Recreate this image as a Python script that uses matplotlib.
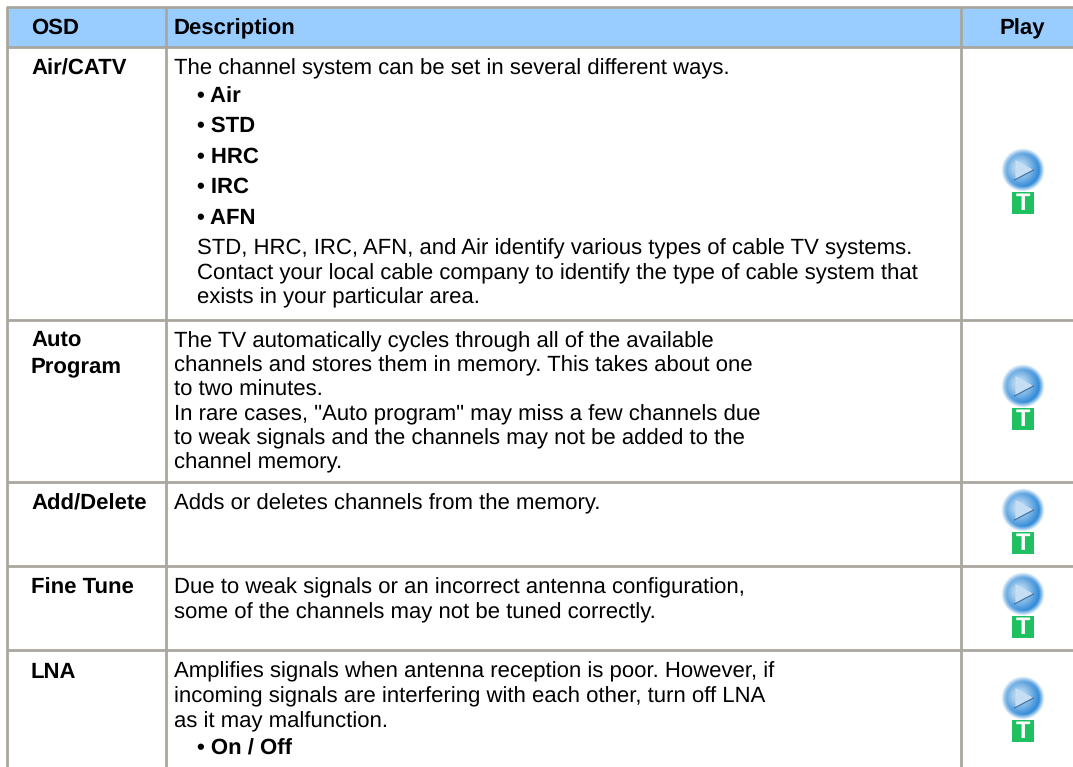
import numpy as np
from matplotlib import pyplot as plt
from matplotlib.patches import Rectangle, Polygon

# Table content
header = ['OSD', 'Description', 'Play']
osd_names = [['Air/CATV'], ['Auto', 'Program'], ['Add/Delete'], ['Fine Tune'], ['LNA']]
osd_y = [[75], [346, 372], [510], [594], [678]]

# description lines: text, baseline, indented, bold
desc_lines = [
    ('The channel system can be set in several different ways.', 74, False, False),
    ('• Air', 102, True, True),
    ('• STD', 132, True, True),
    ('• HRC', 163, True, True),
    ('• IRC', 193, True, True),
    ('• AFN', 224, True, True),
    ('STD, HRC, IRC, AFN, and Air identify various types of cable TV systems.', 254, True, False),
    ('Contact your local cable company to identify the type of cable system that', 279, True, False),
    ('exists in your particular area.', 303, True, False),
    ('The TV automatically cycles through all of the available', 347, False, False),
    ('channels and stores them in memory. This takes about one', 371, False, False),
    ('to two minutes.', 396, False, False),
    ('In rare cases, "Auto program" may miss a few channels due', 420, False, False),
    ('to weak signals and the channels may not be added to the', 444, False, False),
    ('channel memory.', 468, False, False),
    ('Adds or deletes channels from the memory.', 509, False, False),
    ('Due to weak signals or an incorrect antenna configuration,', 593, False, False),
    ('some of the channels may not be tuned correctly.', 618, False, False),
    ('Amplifies signals when antenna reception is poor. However, if', 677, False, False),
    ('incoming signals are interfering with each other, turn off LNA', 702, False, False),
    ('as it may malfunction.', 727, False, False),
    ('• On / Off', 755, True, True),
]

top_line = 7
row_lines = [47, 320, 482, 566, 650]
col_lines = [7, 165.5, 961]
icon_y = [170, 386, 510, 594, 698]

plt.rcParams['text.hinting'] = 'no_hinting'
plt.rcParams['font.family'] = 'Liberation Sans'
FS = 15.9
LINE = '#a9a79e'


def draw_icon(ax, cx, cy):
    # radial gradient play button
    n = 60
    yy, xx = np.mgrid[-1:1:n * 1j, -1:1:n * 1j]
    r = np.sqrt(xx ** 2 + yy ** 2)
    r2 = np.sqrt((xx + 0.15) ** 2 + (yy + 0.1) ** 2)
    rgba = np.zeros((n, n, 4))
    inner = np.array([0.70, 0.83, 0.94])
    outer = np.array([0.20, 0.55, 0.85])
    t = np.clip((r2 - 0.25) / 0.65, 0, 1)[..., None]
    rgba[..., :3] = inner * (1 - t) + outer * t
    rgba[..., 3] = np.clip((1 - r) / 0.25, 0, 1)
    ax.imshow(rgba, extent=(cx - 22, cx + 22, cy + 22, cy - 22), zorder=3, interpolation='bilinear')
    ax.add_patch(Polygon([(cx - 7, cy - 10), (cx + 11, cy), (cx - 7, cy + 10)],
                         closed=True, fc='#c6def3', ec='none', zorder=4))
    ax.plot([cx - 8, cx + 11], [cy + 10, cy], color='#2f6498', lw=0.9, alpha=0.85, zorder=5)
    # green T badge
    ty = cy + 33
    ax.add_patch(Rectangle((cx - 11, ty - 11), 22, 22, fc='#1fc062', ec='none', zorder=3))
    ax.text(cx, ty + 0.5, 'T', color='white', fontsize=17, fontweight='bold',
            ha='center', va='center', zorder=4)


def main():
    fig = plt.figure(figsize=(10.73, 7.67), dpi=100)
    ax = fig.add_axes([0, 0, 1, 1])

    # header band
    ax.add_patch(Rectangle((col_lines[0], top_line), 1073 - col_lines[0], row_lines[0] - top_line,
                           fc='#99ccff', ec='none', zorder=0))

    # grid lines
    for y in [top_line] + row_lines:
        ax.plot([col_lines[0] - 1, 1073], [y, y], color=LINE, lw=2.0, solid_capstyle='butt', zorder=1)
    for x in col_lines:
        ax.plot([x, x], [top_line, 767], color=LINE, lw=2.0, solid_capstyle='butt', zorder=1)

    # header text
    ax.text(31, 34, header[0], fontsize=FS, fontweight='bold', va='baseline')
    ax.text(174, 34, header[1], fontsize=FS, fontweight='bold', va='baseline')
    ax.text(1022, 34, header[2], fontsize=FS, fontweight='bold', va='baseline', ha='center')

    # OSD column
    for names, ys in zip(osd_names, osd_y):
        for name, y in zip(names, ys):
            ax.text(31, y, name, fontsize=FS, fontweight='bold', va='baseline')

    # description column
    for text, y, indent, bold in desc_lines:
        x = 197 if indent else 174
        ax.text(x, y, text, fontsize=FS, fontweight='bold' if bold else 'normal', va='baseline')

    for y in icon_y:
        draw_icon(ax, 1022.5, y)

    ax.set_xlim(0, 1073)
    ax.set_ylim(767, 0)
    ax.axis('off')
    fig.savefig('out.png', dpi=100)


if __name__ == "__main__":
    main()
